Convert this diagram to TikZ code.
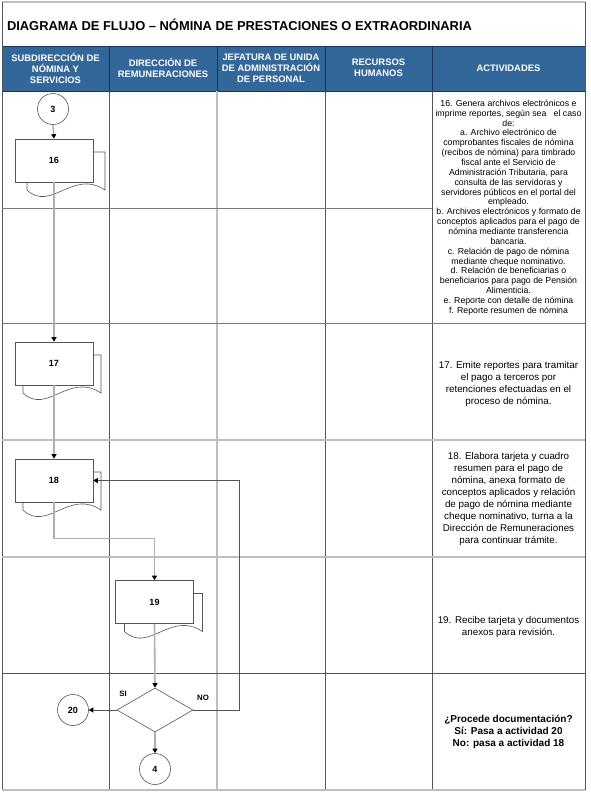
\documentclass[tikz,border=0pt]{standalone}
\usepackage{fontspec}
\setmainfont{Liberation Sans}
\usetikzlibrary{shapes.geometric,arrows.meta}
\definecolor{hdr}{RGB}{51,102,153}
\definecolor{hdrline}{RGB}{30,50,90}
\definecolor{gdark}{RGB}{85,85,85}
\definecolor{gmid}{RGB}{120,120,120}
\definecolor{glight}{RGB}{190,190,190}
\definecolor{flowc}{RGB}{175,175,175}
\tikzset{
  gridd/.style={draw=gdark, line width=0.9pt},
  gridm/.style={draw=gmid, line width=0.9pt},
  gridl/.style={draw=glight, line width=1.1pt},
  hdrtext/.style={text=white, align=center, font=\bfseries\fontsize{9.4}{11}\selectfont},
  acttext/.style={align=center, font=\fontsize{9.8}{12}\selectfont},
  docbox/.style={draw=gdark, line width=0.6pt, fill=white, minimum width=78pt, minimum height=43pt, inner sep=0pt, font=\bfseries\fontsize{9}{10}\selectfont},
  docback/.style={draw=gdark, line width=0.6pt, fill=white},
  conn/.style={draw=gdark, line width=0.6pt, fill=white, circle, minimum size=31pt, inner sep=0pt, font=\bfseries\fontsize{9}{10}\selectfont},
  decis/.style={draw=gdark, line width=0.6pt, fill=white, diamond, minimum width=76pt, minimum height=44pt, inner sep=0pt},
  flow/.style={draw=flowc, line width=1.6pt, -{Triangle[length=4.5pt,width=5pt,color=black]}},
  flowdark/.style={draw=gdark, line width=0.8pt, -{Triangle[length=4.5pt,width=5pt,color=black]}},
  lbl/.style={font=\bfseries\fontsize{7.8}{9}\selectfont}
}
\newcommand\mydocback[3]{% cx, cy, dx
  \draw[docback] (#1-39+#3,#2+21.5) -- (#1-39+#3,#2+29.5)
    .. controls (#1-39+#3+24,#2+52) and (#1+39+#3-32,#2+8) .. (#1+39+#3,#2+29.5)
    -- (#1+39+#3,#2-8.5) -- (#1+39,#2-8.5);
}
\begin{document}
\begin{tikzpicture}[x=1pt,y=-1pt]
\useasboundingbox (0,0) rectangle (590,795);
\fill[white] (0,0) rectangle (590,795);

% title
\draw[glight, line width=1.1pt] (2,2) -- (585,2);
\node[anchor=west, font=\bfseries\fontsize{12.9}{15}\selectfont] (title) at (3.5,24.5) {DIAGRAMA DE FLUJO – NÓMINA DE PRESTACIONES O EXTRAORDINARIA};

% header band
\fill[hdr] (2,46) rectangle (585,91);
\draw[hdrline, line width=0.9pt] (2,46) rectangle (585,91);
\foreach \xx in {109,217,325,432} {\draw[hdrline, line width=0.9pt] (\xx,46) -- (\xx,91);}
\node[hdrtext] (h1) at (55.5,68.5) {SUBDIRECCIÓN DE\\NÓMINA Y\\SERVICIOS};
\node[hdrtext] (h2) at (163,68) {DIRECCIÓN DE\\REMUNERACIONES};
\node[hdrtext] (h3) at (271,68.5) {JEFATURA DE UNIDA\\DE ADMINISTRACIÓN\\DE PERSONAL};
\node[hdrtext] (h4) at (378.5,67.5) {RECURSOS\\HUMANOS};
\node[hdrtext] (h5) at (508.5,68) {ACTIVIDADES};

% grid
\draw[gridd] (2,2) -- (2,790);
\draw[gridd] (585,2) -- (585,790);
\draw[gridd] (109,91) -- (109,790);
\draw[gridl] (217,91) -- (217,790);
\draw[gridd] (325,91) -- (325,790);
\draw[gridd] (432,91) -- (432,790);
\draw[gridm] (2,208) -- (432,208);
\draw[gridm] (2,323) -- (585,323);
\draw[gridl] (2,440) -- (585,440);
\draw[gridl] (2,557) -- (585,557);
\draw[gridd] (2,673) -- (585,673);
\draw[gridl] (2,790) -- (585,790);

% activity texts
\node[align=center, font=\fontsize{8.75}{9.86}\selectfont] (t16) at (508.5,207.5) {16. Genera archivos electrónicos e\\
imprime reportes, según sea\ \ \ el caso\\
de:\\
a. Archivo electrónico de\\
comprobantes fiscales de nómina\\
(recibos de nómina) para timbrado\\
fiscal ante el Servicio de\\
Administración Tributaria, para\\
consulta de las servidoras y\\
servidores públicos en el portal del\\
empleado.\\
b. Archivos electrónicos y formato de\\
conceptos aplicados para el pago de\\
nómina mediante transferencia\\
bancaria.\\
c. Relación de pago de nómina\\
mediante cheque nominativo.\\
d. Relación de beneficiarias o\\
beneficiarios para pago de Pensión\\
Alimenticia.\\
e. Reporte con detalle de nómina\\
f. Reporte resumen de nómina};
\node[acttext] (t17) at (508.5,384) {17. Emite reportes para tramitar\\el pago a terceros por\\retenciones efectuadas en el\\proceso de nómina.};
\node[acttext] (t18) at (508.5,498.5) {18. Elabora tarjeta y cuadro\\resumen para el pago de\\nómina, anexa formato de\\conceptos aplicados y relación\\de pago de nómina mediante\\cheque nominativo, turna a la\\Dirección de Remuneraciones\\para continuar trámite.};
\node[acttext] (t19) at (508.5,626.5) {19. Recibe tarjeta y documentos\\anexos para revisión.};
\node[acttext, font=\bfseries\fontsize{10}{12}\selectfont] (tdec) at (508.5,732) {¿Procede documentación?\\Sí: Pasa a actividad 20\\No: pasa a actividad 18};

% shapes
\node[conn] (c3) at (53,109) {3};
\mydocback{54}{160.5}{12}
\node[docbox] (d16) at (54,160.5) {16};
\mydocback{54}{363.5}{8}
\node[docbox] (d17) at (54,363.5) {17};
\mydocback{54}{480.5}{8}
\node[docbox] (d18) at (54,480.5) {18};
\mydocback{154.5}{602}{9}
\node[docbox] (d19) at (154.5,602) {19};
\node[decis] (dec) at (155,710) {};
\node[conn] (c20) at (73,710) {20};
\node[conn] (c4) at (155,769) {4};
\coordinate (loopc) at (239,710);

% connectors
\draw[flow] (c3.south) -- (d16.north);
\draw[flow] (d16.south) -- (d17.north);
\draw[flow] (d17.south) -- (d18.north);
\draw[flow] (d18.south) -- ++(0,36) -| (d19.north);
\draw[flow] (d19.south) -- (dec.north);
\draw[flow] (dec.south) -- (c4.north);
\draw[flowdark] (dec.west) -- (c20.east);
\draw[flowdark] (dec.east) -- (loopc) |- (d18.east);

\node[lbl] (si) at (123,694) {SI};
\node[lbl] (no) at (203,698) {NO};
\end{tikzpicture}
\end{document}
